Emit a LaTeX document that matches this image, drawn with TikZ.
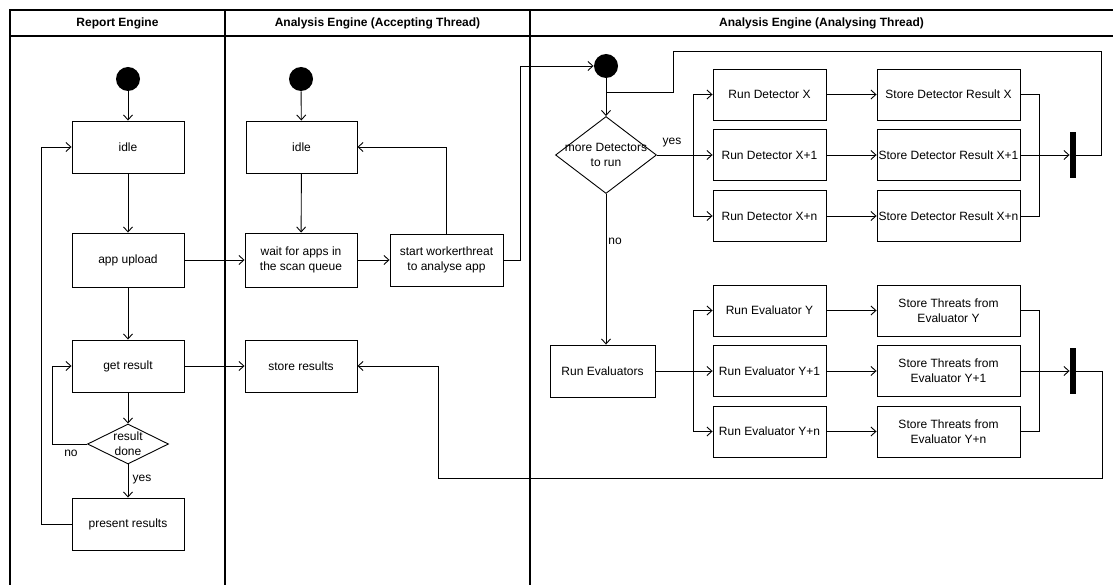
\documentclass[tikz,border=0pt]{standalone}
\usepackage{fontspec}
\setmainfont{Liberation Sans}
\usetikzlibrary{arrows.meta,shapes.geometric}

\begin{document}
\begin{tikzpicture}[x=1pt,y=-1pt,
  font=\fontsize{12}{15}\selectfont,
  line width=0.9pt,
  act/.style={draw, rectangle, minimum width=112pt, minimum height=52pt, align=center, inner sep=1pt},
  wideact/.style={act, minimum width=143pt},
  runact/.style={act, minimum width=113pt, minimum height=51pt},
  startdot/.style={circle, fill=black, minimum size=24pt, inner sep=0pt},
  choice/.style={draw, diamond, inner sep=0pt},
  syncbar/.style={rectangle, fill=black, minimum width=6pt, minimum height=46pt, inner sep=0pt},
  flow/.style={-{Straight Barb[length=5pt,width=9pt]}},
  lane/.style={line width=1.2pt},
  head/.style={font=\fontsize{12}{15}\selectfont\bfseries},
  lbl/.style={inner sep=0pt}
]
\useasboundingbox (0,0) rectangle (1113,585);

% swimlane frame
\draw[lane] (10,585) -- (10,10) -- (1113,10);
\draw[lane] (10,36) -- (1113,36);
\draw[lane] (225,10) -- (225,585);
\draw[lane] (530,10) -- (530,585);
\node[head] (h1) at (117.5,23) {Report Engine};
\node[head] (h2) at (377.5,23) {Analysis Engine (Accepting Thread)};
\node[head] (h3) at (821.5,23) {Analysis Engine (Analysing Thread)};

% ---- Report Engine ----
\node[startdot] (s1) at (128,79) {};
\node[act] (idle1) at (128,147) {idle};
\node[act, minimum height=54pt] (up) at (128,260) {app upload};
\node[act] (get) at (128,366) {get result};
\node[choice, minimum width=81pt, minimum height=40pt,
      label={[align=center, inner sep=0pt]center:result\\done}] (dec1) at (128,444) {};
\node[act] (pres) at (128,524) {present results};
\node[lbl] (yes1) at (142,480) {yes};
\node[lbl] (no1) at (71,453) {no};

\draw[flow] (s1) -- (idle1);
\draw[flow] (idle1) -- (up);
\draw[flow] (up) -- (get);
\draw[flow] (get) -- (dec1);
\draw[flow] (dec1) -- (pres);
\coordinate (noX) at (52,444);
\draw[flow] (dec1.west) -- (noX) |- (get.west);
\coordinate (prX) at (41,524);
\draw[flow] (pres.west) -- (prX) |- (idle1.west);

% ---- Accepting thread ----
\node[startdot] (s2) at (301,79) {};
\node[act, minimum width=111pt] (idle2) at (301.5,147) {idle};
\node[act, minimum height=54pt] (wait) at (301,260) {wait for apps in\\the scan queue};
\node[act, minimum width=113pt] (work) at (446.5,260) {start workerthreat\\to analyse app};
\node[act] (store) at (301,366) {store results};

\draw[flow] (s2) -- (idle2);
\draw[flow] (idle2) -- (wait);
\draw[flow] (up) -- (wait);
\draw[flow] (wait) -- (work);
\draw[flow] (work.north) |- (idle2.east);
\draw[flow] (get) -- (store);

% ---- Analysing thread ----
\node[startdot] (s3) at (606,66) {};
\node[choice, minimum width=101pt, minimum height=77pt,
      label={[align=center, inner sep=0pt]center:more Detectors\\to run}] (dec2) at (606,155) {};
\node[lbl] (yes2) at (672,143) {yes};
\node[lbl] (no2) at (615,241) {no};

\coordinate (wk) at (520,66);
\draw[flow] (work.east) -| (wk) -- (s3.west);
\draw[flow] (s3) -- (dec2);

% detectors
\node[runact] (det1) at (769.5,94.5) {Run Detector X};
\node[runact] (det2) at (769.5,155) {Run Detector X+1};
\node[runact] (det3) at (769.5,216) {Run Detector X+n};
\node[wideact, minimum height=51pt] (sdet1) at (948.5,94.5) {Store Detector Result X};
\node[wideact, minimum height=51pt] (sdet2) at (948.5,155) {Store Detector Result X+1};
\node[wideact, minimum height=51pt] (sdet3) at (948.5,216) {Store Detector Result X+n};
\node[syncbar] (bar1) at (1073,155) {};

\coordinate (fk1) at (693,155);
\draw (dec2.east) -- (fk1);
\draw[flow] (fk1) |- (det1.west);
\draw[flow] (fk1) -- (det2.west);
\draw[flow] (fk1) |- (det3.west);
\draw[flow] (det1) -- (sdet1);
\draw[flow] (det2) -- (sdet2);
\draw[flow] (det3) -- (sdet3);
\coordinate (jn1) at (1039,155);
\draw (sdet1.east) -| (jn1);
\draw (sdet3.east) -| (jn1);
\draw[flow] (sdet2.east) -- (bar1.west);

% loop back to the detector decision
\coordinate (rt1) at (1101,51);
\coordinate (lt1) at (673,92);
\draw (bar1.east) -| (rt1) -| (lt1) -- (s3 |- lt1);

% evaluators
\node[act, minimum width=105pt] (runev) at (602.5,371) {Run Evaluators};
\node[runact] (ev1) at (769.5,310.5) {Run Evaluator Y};
\node[runact] (ev2) at (769.5,371) {Run Evaluator Y+1};
\node[runact] (ev3) at (769.5,431.5) {Run Evaluator Y+n};
\node[wideact, minimum height=51pt] (sev1) at (948.5,310.5) {Store Threats from\\Evaluator Y};
\node[wideact, minimum height=51pt] (sev2) at (948.5,371) {Store Threats from\\Evaluator Y+1};
\node[wideact, minimum height=51pt] (sev3) at (948.5,431.5) {Store Threats from\\Evaluator Y+n};
\node[syncbar] (bar2) at (1073,371) {};

\draw[flow] (dec2.south) -- (dec2.south |- runev.north);
\coordinate (fk2) at (693,371);
\draw (runev.east) -- (fk2);
\draw[flow] (fk2) |- (ev1.west);
\draw[flow] (fk2) -- (ev2.west);
\draw[flow] (fk2) |- (ev3.west);
\draw[flow] (ev1) -- (sev1);
\draw[flow] (ev2) -- (sev2);
\draw[flow] (ev3) -- (sev3);
\coordinate (jn2) at (1039,371);
\draw (sev1.east) -| (jn2);
\draw (sev3.east) -| (jn2);
\draw[flow] (sev2.east) -- (bar2.west);

% results handed back to the accepting thread
\coordinate (rb) at (1102,478);
\coordinate (lb) at (438,478);
\draw[flow] (bar2.east) -| (rb) -- (lb) |- (store.east);
\end{tikzpicture}
\end{document}
